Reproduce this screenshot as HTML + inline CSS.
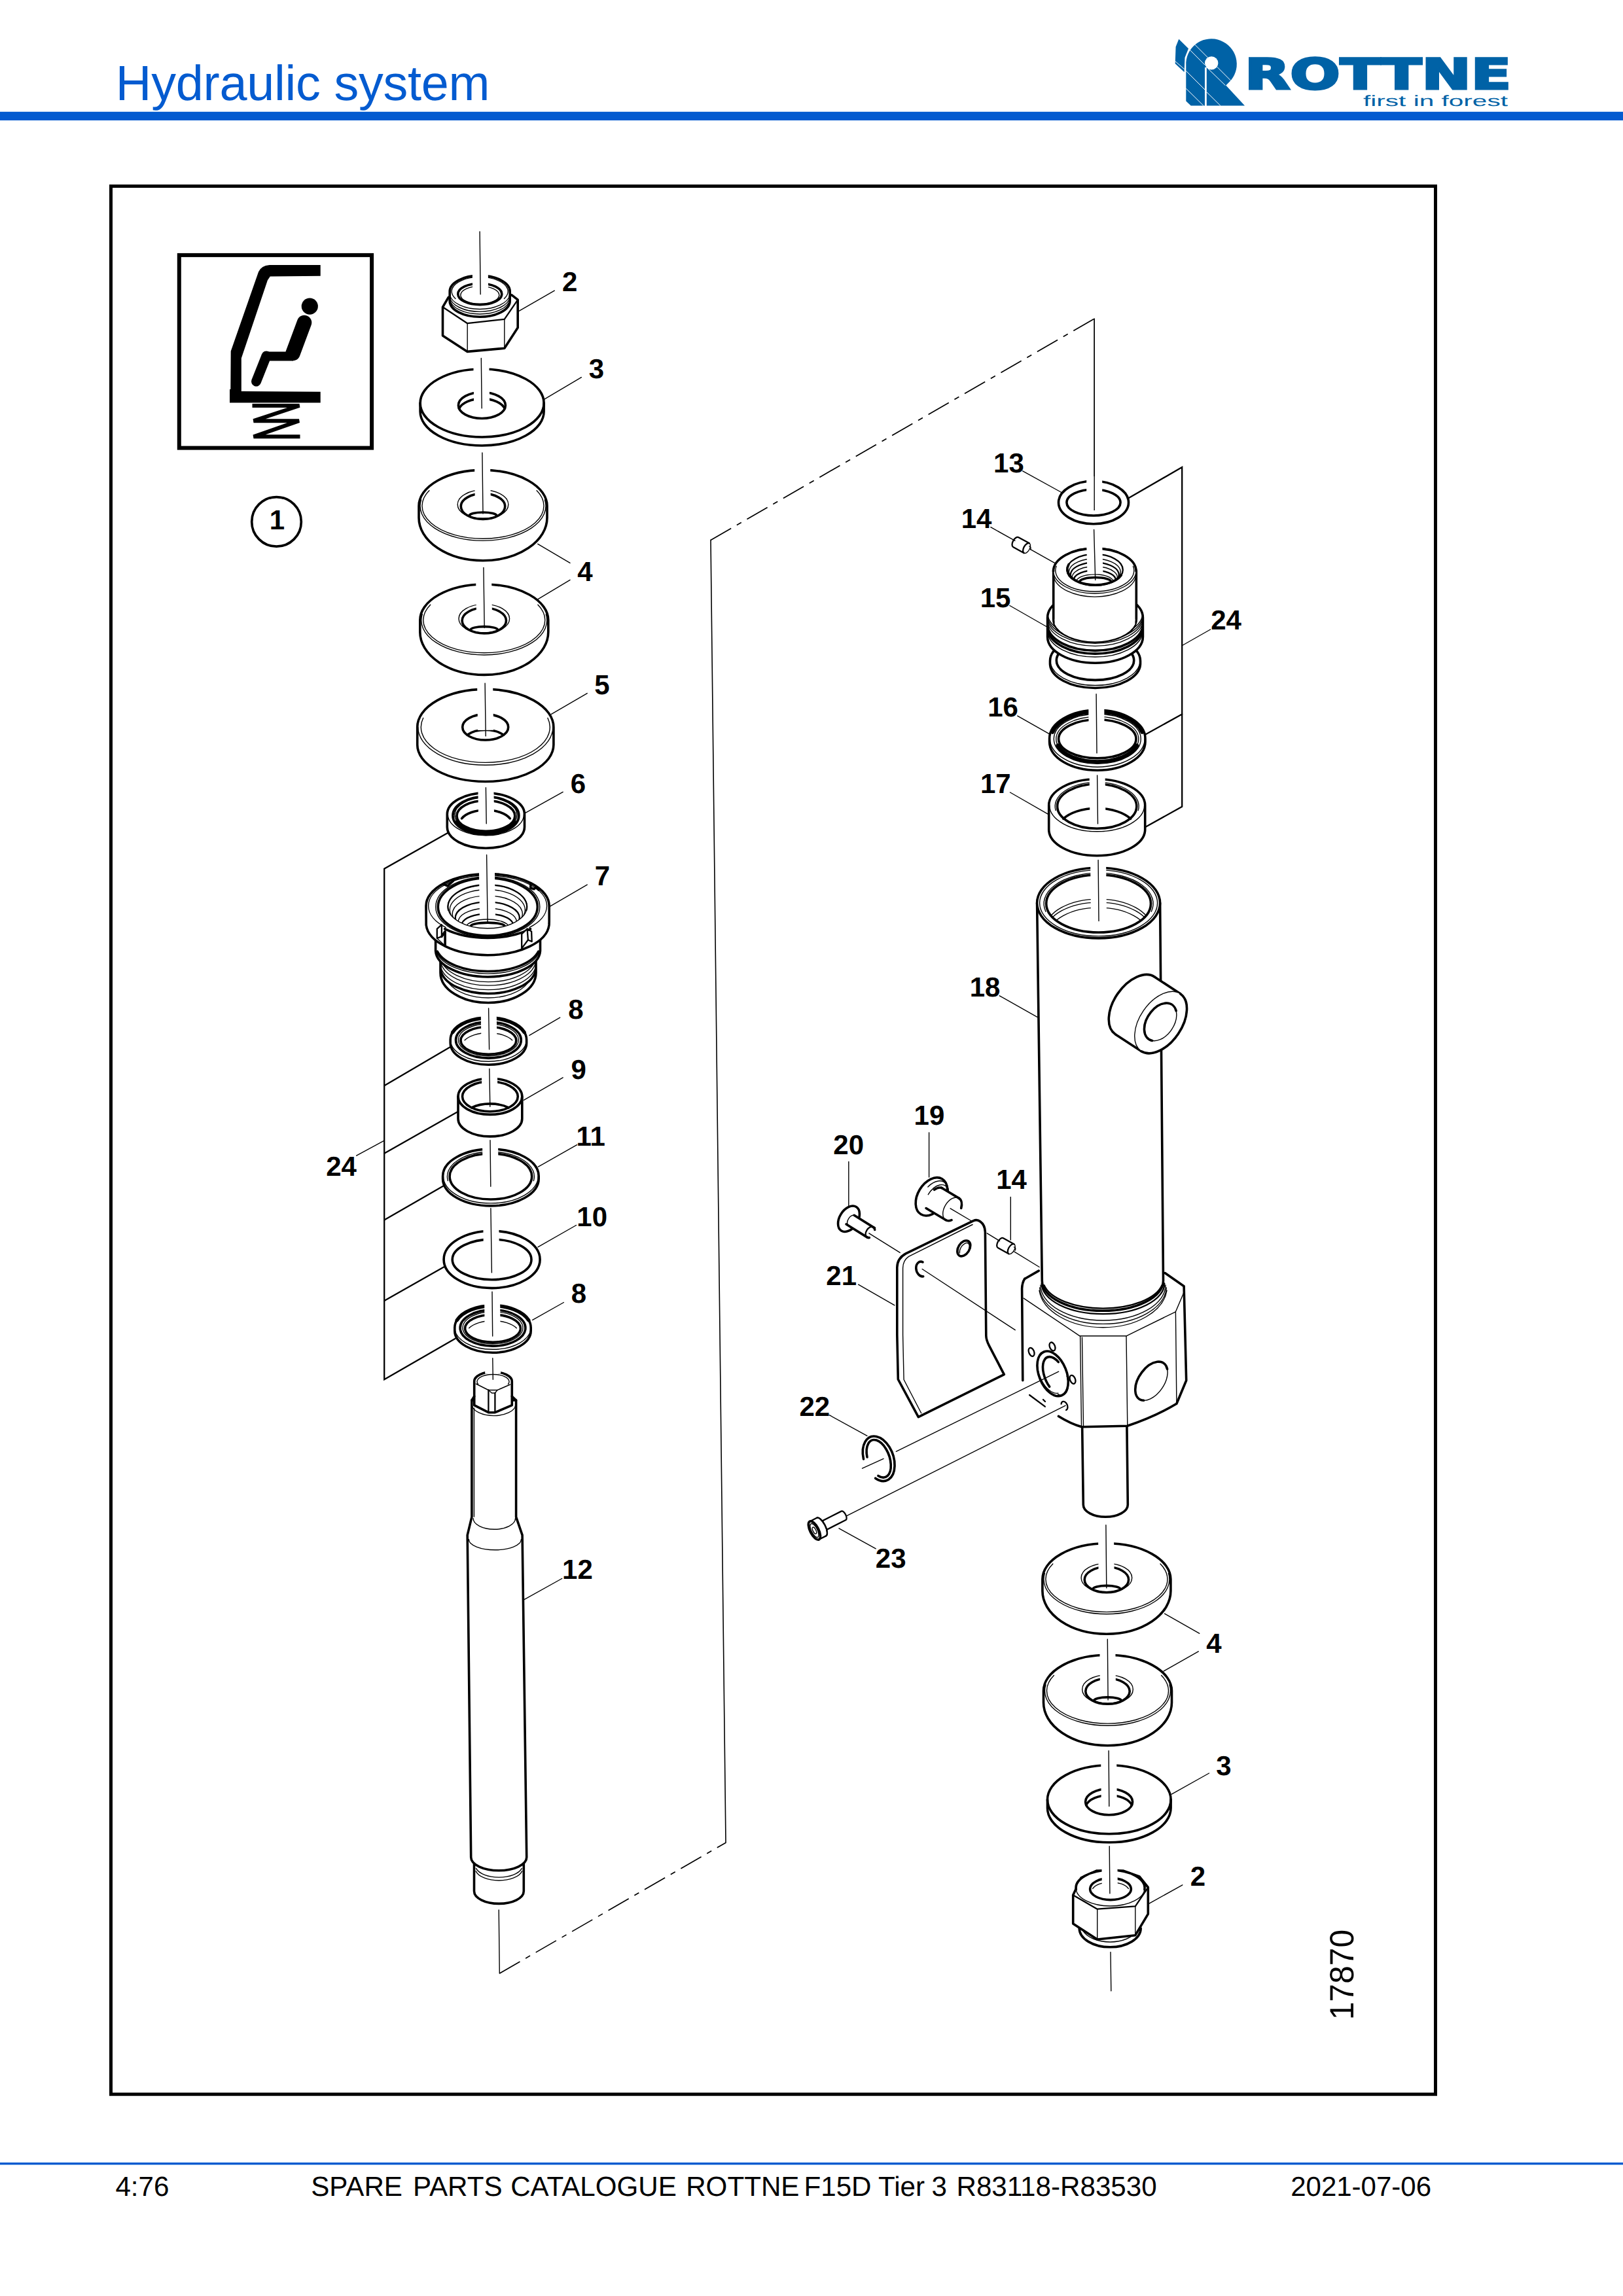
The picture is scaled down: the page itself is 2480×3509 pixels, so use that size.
<!DOCTYPE html>
<html lang="en">
<head>
<meta charset="utf-8">
<title>Hydraulic system - SPARE PARTS CATALOGUE ROTTNE F15D Tier 3 R83118-R83530</title>
<style>
html,body{margin:0;padding:0;background:#fff;}
body{width:2480px;height:3509px;overflow:hidden;font-family:"Liberation Sans",sans-serif;}
svg{display:block;position:absolute;left:0;top:0;}
svg text{font-family:"Liberation Sans",sans-serif;text-rendering:geometricPrecision;}
.lb{font-weight:bold;text-anchor:middle;fill:#000;stroke:none;}
.dr{stroke:#000;fill:none;stroke-linecap:round;stroke-linejoin:round;}
</style>
</head>
<body>
<svg width="2480" height="3509" viewBox="0 0 2480 3509">
<rect x="0" y="0" width="2480" height="3509" fill="#fff"/>
<text x="176.8" y="153" font-size="75.6" fill="#045bd0" textLength="571.8" lengthAdjust="spacing">Hydraulic system</text>
<rect x="0" y="170.8" width="2480" height="13.2" fill="#045bd0"/>
<rect x="0" y="3305" width="2480" height="3.4" fill="#045bd0"/>
<text x="176.4" y="3355.7" font-size="42.17" fill="#000">4:76</text>
<text x="475.2" y="3355.7" font-size="42.17" fill="#000"><tspan>SPARE </tspan><tspan dx="4.2">PARTS </tspan><tspan dx="0.9">CATALOGUE </tspan><tspan dx="2.5">ROTTNE </tspan><tspan dx="-4.7">F15D </tspan><tspan dx="-0.5">Tier </tspan><tspan dx="-1.3">3 </tspan><tspan dx="2.8">R83118-R83530</tspan></text>
<text x="1972.2" y="3355.7" font-size="42" fill="#000">2021-07-06</text>
<g fill="#0062a6" stroke="none">
<path d="M1801.3,59.8L1816,74.2L1810.5,88.1L1809.6,110.2L1795.7,97.3L1796.6,71.4Z"/>
<path d="M1812.3,95.5A38.8,38.8 0 1 1 1881.3,122.3L1873.3,130.6L1902,161.6L1819.7,161.6L1812.3,154.6Z"/>
<circle cx="1851.2" cy="96.4" r="10.2" fill="#fff"/>
<rect x="1841" y="103" width="2.8" height="59" fill="#fff"/>
<g stroke="#fff" stroke-width="1" fill="none"><path d="M1825.3,67.7L1880.7,123.2M1817,75.1L1841,99.2M1843.8,102.8L1872.4,130.6M1812.3,108.4L1841,137M1812.3,135.2L1839.1,161.6M1843.8,140.7L1865,161.6M1795.7,93.6L1809.6,105.6"/></g>
<text transform="translate(1902 136.3) scale(1.388 1)" x="0" y="0" font-family="DejaVu Sans, Liberation Sans, sans-serif" font-weight="bold" font-size="64.8" stroke="#0062a6" stroke-width="3.2" style="font-family:'DejaVu Sans','Liberation Sans',sans-serif">ROTTNE</text>
<text x="2083" y="161.6" font-size="23" textLength="221" lengthAdjust="spacingAndGlyphs">first in forest</text>
</g>
<g class="dr">
<rect x="169.5" y="284.5" width="2024" height="2916.2" stroke-width="5" stroke-linejoin="miter"/>
<rect x="273.8" y="389.9" width="294.3" height="294.7" stroke-width="6" stroke-linejoin="miter"/>
<path d="M489.7,405L411.8,405Q399,406 395,415.5L352.7,536.7L352.3,594.9L351,594.9L351,615.6L489.7,615.6L489.7,598.8L368.8,597.9L368.8,547.6L408.9,428.3L412.8,422.4L489.7,421.8Z" fill="#000" stroke="none"/>
<circle cx="473.3" cy="468.1" r="12.6" fill="#000" stroke="none"/>
<path d="M465,493L447.5,540" stroke-width="22.5" stroke-linecap="round"/>
<path d="M448,544.4L406,544.4" stroke-width="14" stroke-linecap="butt"/>
<path d="M407,544L391.5,583" stroke-width="15" stroke-linecap="round"/>
<path d="M385.5,620H457.5L387.5,643.2H457L387.5,667.3H458.5" stroke-width="6" stroke-linecap="butt" stroke-linejoin="miter"/>
<circle cx="422.5" cy="797.4" r="37.8" stroke-width="3.7"/>
<text x="423.5" y="808.8" font-size="42" class="lb">1</text>
<path d="M685.4,454.2L676.5,469.3L676.5,513L714.2,537.4L770.8,532.3L791.2,500.8L791.2,458.2L781.9,450.9Z" stroke-width="3.6" fill="#fff"/>
<path d="M676.5,469.3L714.2,494.2L770.8,487.9L791.2,458.2" stroke-width="2.3" fill="none"/>
<path d="M714.2,494.2L714.2,537.4" stroke-width="1.4" fill="none"/>
<path d="M770.8,487.9L770.8,532.3" stroke-width="1.4" fill="none"/>
<path d="M779.2,459.9A46,24.3 0 0 1 687.2,459.9L687.2,445.4L687.2,445.4A46,24.3 0 0 1 779.2,445.4Z" stroke-width="3.6" fill="#fff"/>
<path d="M779,458A46,24.3 0 0 1 687.4,458" stroke-width="1.4" fill="none"/>
<path d="M779,450.5A46,24.3 0 0 1 687.4,450.5" stroke-width="1.4" fill="none"/>
<path d="M779,454.3A46,24.3 0 0 1 687.4,454.3" stroke-width="1.4" fill="none"/>
<path d="M696,456.4A43,22 0 1 1 770.4,456.4" stroke-width="1.4" fill="none"/>
<ellipse cx="733.3" cy="449.4" rx="33.5" ry="16.2" stroke-width="3.6" fill="none"/>
<ellipse cx="733.3" cy="450.9" rx="29.5" ry="13.5" stroke-width="1.4" fill="none"/>
<path d="M831.1,629A94.5,52 0 0 1 642.1,629L642.1,616L642.1,616A94.5,52 0 0 1 831.1,616Z" stroke-width="3.6" fill="#fff"/>
<path d="M831.1,616A94.5,52 0 0 1 642.1,616" stroke-width="3.6" fill="none"/>
<ellipse cx="736.4" cy="619.5" rx="36" ry="20" stroke-width="3.6" fill="none"/>
<path d="M701.5,624.5A36,20 0 0 1 771.3,624.5" stroke-width="3.6" fill="none"/>
<path d="M640,773.2A98,54.8 0 0 1 836,773.2L836,791.2L836,791.2A98,65.6 0 0 1 640,791.2Z" stroke-width="3.6" fill="#fff"/>
<path d="M820.1,749.7A93,50 0 1 1 655.9,749.7" stroke-width="1.4" fill="none"/>
<path d="M832.5,764A96,53 0 1 1 643.5,764" stroke-width="1.4" fill="none"/>
<ellipse cx="738" cy="771" rx="38.8" ry="22.2" stroke-width="1.4" fill="none"/>
<ellipse cx="738" cy="773.9" rx="33.7" ry="19.5" stroke-width="3.6" fill="none"/>
<clipPath id="c1"><ellipse cx="738" cy="773.9" rx="33.7" ry="19.5"/></clipPath>
<g clip-path="url(#c1)">
<ellipse cx="738" cy="788.2" rx="21" ry="5.2" stroke-width="3.6" fill="none"/>
<path d="M764.6,786.5A27,7.5 0 0 1 711.4,786.5" stroke-width="1.4" fill="none"/>
</g>
<path d="M641.8,947.8A98,54.8 0 0 1 837.8,947.8L837.8,965.8L837.8,965.8A98,65.6 0 0 1 641.8,965.8Z" stroke-width="3.6" fill="#fff"/>
<path d="M821.9,924.3A93,50 0 1 1 657.7,924.3" stroke-width="1.4" fill="none"/>
<path d="M834.3,938.6A96,53 0 1 1 645.3,938.6" stroke-width="1.4" fill="none"/>
<ellipse cx="739.8" cy="945.6" rx="38.8" ry="22.2" stroke-width="1.4" fill="none"/>
<ellipse cx="739.8" cy="948.5" rx="33.7" ry="19.5" stroke-width="3.6" fill="none"/>
<clipPath id="c2"><ellipse cx="739.8" cy="948.5" rx="33.7" ry="19.5"/></clipPath>
<g clip-path="url(#c2)">
<ellipse cx="739.8" cy="962.8" rx="21" ry="5.2" stroke-width="3.6" fill="none"/>
<path d="M766.4,961.1A27,7.5 0 0 1 713.2,961.1" stroke-width="1.4" fill="none"/>
</g>
<path d="M637.7,1111.3A104.1,58 0 0 1 845.9,1111.3L845.9,1138.3L845.9,1138.3A104.1,56.2 0 0 1 637.7,1138.3Z" stroke-width="3.6" fill="#fff"/>
<path d="M844.9,1111.3A103.1,58 0 0 1 638.7,1111.3" stroke-width="1.4" fill="none"/>
<path d="M836.9,1097.3A98.5,54 0 1 1 646.7,1097.3" stroke-width="1.4" fill="none"/>
<ellipse cx="741.7" cy="1111.3" rx="35" ry="19.7" stroke-width="3.6" fill="none"/>
<path d="M713.9,1123.3A35,19.7 0 0 1 769.5,1123.3" stroke-width="3.6" fill="none"/>
<path d="M683.3,1244.4A59.1,32.5 0 0 1 801.5,1244.4L801.5,1264.1L801.5,1264.1A59.1,32.1 0 0 1 683.3,1264.1Z" stroke-width="3.6" fill="#fff"/>
<path d="M800.5,1244.4A58.1,32.5 0 0 1 684.3,1244.4" stroke-width="1.4" fill="none"/>
<ellipse cx="742.4" cy="1246.4" rx="50.5" ry="29" stroke-width="3.6" fill="none"/>
<ellipse cx="742.4" cy="1245.4" rx="47.5" ry="26.5" stroke-width="1.4" fill="none"/>
<ellipse cx="742.4" cy="1246.9" rx="44.4" ry="23.4" stroke-width="3.6" fill="none"/>
<path d="M787,1256.4A47.5,26.2 0 0 1 697.8,1256.4" stroke-width="5" fill="none"/>
<path d="M705.6,1250.8A40,21 0 0 1 779.2,1250.8" stroke-width="3.6" fill="none"/>
<path d="M673,1455L673,1486.7A73,45.8 0 0 0 819,1486.7L819,1455Z" stroke-width="3.6" fill="#fff"/>
<path d="M818.3,1466.2A73,40 0 0 1 673.7,1466.2" stroke-width="1.4" fill="none"/>
<path d="M818.3,1471.7A73,40 0 0 1 673.7,1471.7" stroke-width="1.4" fill="none"/>
<path d="M818.3,1478.2A73,40 0 0 1 673.7,1478.2" stroke-width="1.4" fill="none"/>
<path d="M818.3,1484.1A73,40 0 0 1 673.7,1484.1" stroke-width="3.6" fill="none"/>
<path d="M805.8,1503.1A66,38 0 0 1 686.2,1503.1" stroke-width="1.4" fill="none"/>
<path d="M665.6,1420L665.6,1453.4A80,41 0 0 0 825.5,1453.4L825.5,1420Z" stroke-width="3.6" fill="#fff"/>
<path d="M823.8,1455.5A80,41 0 0 1 667.2,1455.5" stroke-width="1.4" fill="none"/>
<path d="M822.8,1454.1A80,41 0 0 1 668.2,1454.1" stroke-width="3.6" fill="none"/>
<path d="M651,1384.5A94.1,49 0 0 1 839.2,1384.5L839.2,1408.5L839,1413.9A94.1,49 0 0 1 651.2,1413.9Z" stroke-width="3.6" fill="#fff"/>
<path d="M810.5,1419.7A94.1,49 0 0 1 679.7,1419.7" stroke-width="3.6" fill="none"/>
<path d="M681.1,1417.4A90.5,46.5 0 1 1 809.1,1417.4" stroke-width="1.4" fill="none"/>
<path d="M667.8,1419.6L674.9,1413.2L674.9,1431.3L667.8,1433.9Z" stroke-width="2.3" fill="#fff"/>
<path d="M674.9,1431.3L680.1,1423.5L680.1,1445.5" stroke-width="3.6" fill="none"/>
<path d="M667.8,1433.9L680.1,1445.5" stroke-width="1.4" fill="none"/>
<path d="M797.2,1427.4L805.6,1419.6L806.9,1436.5L797.2,1449.4Z" stroke-width="2.3" fill="#fff"/>
<path d="M805.6,1419.6L812.1,1423.5L812.7,1439L806.9,1436.5" stroke-width="2.3" fill="none"/>
<path d="M678.8,1351.7L684,1354L692.4,1346.5L692.4,1344.6L699.5,1342.6" stroke-width="3.6" fill="none"/>
<path d="M810.8,1350.4L810.8,1357L816,1358.8L818.6,1356.2L823,1360" stroke-width="3.6" fill="none"/>
<ellipse cx="745.3" cy="1386" rx="79.5" ry="46" stroke-width="1.4" fill="none"/>
<ellipse cx="745.3" cy="1386" rx="76" ry="44" stroke-width="3.6" fill="none"/>
<ellipse cx="744.8" cy="1385.5" rx="60.4" ry="33.3" stroke-width="1.4" fill="#fff"/>
<clipPath id="c3"><ellipse cx="744.8" cy="1385.5" rx="60.4" ry="33.3"/></clipPath>
<g clip-path="url(#c3)">
<path d="M695,1406A57.5,31 0 1 1 794.6,1406" stroke-width="1.4" fill="none"/>
<path d="M698.5,1410.2A53.5,27.5 0 1 1 791.1,1410.2" stroke-width="1.4" fill="none"/>
<path d="M702.4,1414.5A49,24 0 1 1 787.2,1414.5" stroke-width="2.3" fill="none"/>
<path d="M706.3,1418.8A44.5,20.5 0 1 1 783.3,1418.8" stroke-width="1.4" fill="none"/>
<path d="M710.6,1422.8A39.5,17.5 0 1 1 779,1422.8" stroke-width="2.3" fill="none"/>
<path d="M715.4,1426A34,14 0 1 1 774.2,1426" stroke-width="1.4" fill="none"/>
<ellipse cx="745.3" cy="1415.5" rx="26" ry="5.4" stroke-width="3.6" fill="none"/>
</g>
<path d="M685.3,1391.3A60.4,33.3 0 1 1 804.3,1391.3" stroke-width="2.3" fill="none"/>
<path d="M804.6,1594A58.2,33.3 0 0 1 688.2,1594L688.2,1589L688.2,1589A58.2,33.3 0 0 1 804.6,1589Z" stroke-width="3.6" fill="#fff"/>
<path d="M804.6,1589A58.2,33.3 0 0 1 688.2,1589" stroke-width="1.4" fill="none"/>
<path d="M691.7,1577.6A58.2,33.3 0 0 1 801.1,1577.6" stroke-width="5.5" fill="none"/>
<ellipse cx="746.4" cy="1589.5" rx="49.9" ry="27.6" stroke-width="3.6" fill="none"/>
<ellipse cx="746.4" cy="1589.2" rx="46" ry="24.5" stroke-width="1.4" fill="none"/>
<ellipse cx="746.4" cy="1590.2" rx="42.4" ry="21" stroke-width="3.6" fill="none"/>
<path d="M710.1,1589.8A40,19.5 0 0 1 782.7,1589.8" stroke-width="1.4" fill="none"/>
<path d="M700,1675.8A48.9,27.6 0 0 1 797.8,1675.8L797.8,1709.8L797.8,1709.8A48.9,27.1 0 0 1 700,1709.8Z" stroke-width="3.6" fill="#fff"/>
<path d="M797.8,1675.8A48.9,27.6 0 0 1 700,1675.8" stroke-width="3.6" fill="none"/>
<ellipse cx="748.9" cy="1675.8" rx="42.4" ry="22.9" stroke-width="3.6" fill="none"/>
<path d="M720.5,1692.8A42.4,22.9 0 0 1 777.3,1692.8" stroke-width="3.6" fill="none"/>
<path d="M823.2,1801.5A73.3,41.4 0 0 1 676.6,1801.5L676.6,1797.5L676.6,1797.5A73.3,41.4 0 0 1 823.2,1797.5Z" stroke-width="3.6" fill="#fff"/>
<path d="M822.4,1797.5A72.5,41.4 0 0 1 677.4,1797.5" stroke-width="1.4" fill="none"/>
<ellipse cx="749.9" cy="1798" rx="62.8" ry="35" stroke-width="3.6" fill="none"/>
<path d="M684.4,1804.6A66.5,37.8 0 1 1 815.4,1804.6" stroke-width="1.4" fill="none"/>
<ellipse cx="751.6" cy="1924.9" rx="73.5" ry="43.7" stroke-width="3.6" fill="#fff"/>
<ellipse cx="751.6" cy="1924.9" rx="60.4" ry="30.8" stroke-width="3.6" fill="none"/>
<path d="M811.2,2034A58.2,33.3 0 0 1 694.8,2034L694.8,2029L694.8,2029A58.2,33.3 0 0 1 811.2,2029Z" stroke-width="3.6" fill="#fff"/>
<path d="M811.2,2029A58.2,33.3 0 0 1 694.8,2029" stroke-width="1.4" fill="none"/>
<path d="M698.3,2017.6A58.2,33.3 0 0 1 807.7,2017.6" stroke-width="5.5" fill="none"/>
<ellipse cx="753" cy="2029.5" rx="49.9" ry="27.6" stroke-width="3.6" fill="none"/>
<ellipse cx="753" cy="2029.2" rx="46" ry="24.5" stroke-width="1.4" fill="none"/>
<ellipse cx="753" cy="2030.2" rx="42.4" ry="21" stroke-width="3.6" fill="none"/>
<path d="M716.7,2029.8A40,19.5 0 0 1 789.3,2029.8" stroke-width="1.4" fill="none"/>
<path d="M724.5,2845L724.5,2890.2A37.9,19.2 0 0 0 800.3,2890.2L800.3,2845Z" stroke-width="3.6" fill="#fff"/>
<path d="M797.2,2855.7A36,18 0 0 1 727.6,2855.7" stroke-width="1.4" fill="none"/>
<path d="M797.6,2859.7A36,18 0 0 1 727.2,2859.7" stroke-width="1.4" fill="none"/>
<path d="M720.9,2140L720.9,2318.4L714.2,2346.2L719.7,2838.4A42.5,20.3 0 0 0 804.7,2838.4L798.1,2346.2L788.6,2318.4L788.6,2140Z" stroke-width="3.6" fill="#fff"/>
<path d="M724.4,2152L724.4,2318" stroke-width="1.4"/>
<path d="M787.5,2320.6A32.2,16.7 0 0 1 723.1,2320.6" stroke-width="1.4" fill="none"/>
<path d="M796.4,2352.8A40,16 0 0 1 716.4,2352.8" stroke-width="1.4" fill="none"/>
<path d="M787.9,2147.5A33.5,17.5 0 0 1 721.1,2147.5" stroke-width="1.4" fill="none"/>
<path d="M724.7,2111L724.7,2147.6L746.4,2158.7L756.4,2158.7L782.3,2147.6L782.3,2111A28.8,14.4 0 0 0 724.7,2111Z" stroke-width="3.6" fill="#fff"/>
<path d="M730.5,2115.3A24.5,11 0 1 1 776.5,2115.3" stroke-width="1.4" fill="none"/>
<path d="M727.5,2115L746.4,2124.5L760,2124.5L779.5,2116" stroke-width="1.4" fill="none"/>
<path d="M746.4,2124.5L746.4,2158" stroke-width="2.3" fill="none"/>
<path d="M756.4,2129L756.4,2158" stroke-width="2.3" fill="none"/>
<path d="M746.4,2124.5L751.5,2129L756.4,2129L760,2124.5" stroke-width="1.4" fill="none"/>
<path d="M720.9,2140L724.7,2134" stroke-width="3.6" fill="none"/>
<path d="M788.6,2140L782.3,2134" stroke-width="3.6" fill="none"/>
<path d="M684.5,1272.8L587.2,1327.7L587.2,2108.2L695.7,2045.7" stroke-width="2.3" fill="none" stroke-linejoin="miter"/>
<path d="M688.2,1600.1L587.2,1659.3" stroke-width="2.3"/>
<path d="M700,1698.7L587.2,1762.8" stroke-width="2.3"/>
<path d="M678.3,1812.1L587.2,1864.5" stroke-width="2.3"/>
<path d="M679.3,1935.7L587.2,1988" stroke-width="2.3"/>
<path d="M544.7,1766.2L587.2,1743.1" stroke-width="1.4"/>
<path d="M733.1,354L734.1,440.8" stroke="#fff" stroke-width="24" stroke-linecap="butt"/>
<path d="M733.1,354L734.2,449.8" stroke-width="1.4"/>
<path d="M735.3,547.4L736.1,614.9" stroke="#fff" stroke-width="24" stroke-linecap="butt"/>
<path d="M735.3,547.4L736.2,623.9" stroke-width="1.4"/>
<path d="M736.9,692L737.9,776" stroke="#fff" stroke-width="24" stroke-linecap="butt"/>
<path d="M736.9,692L738,785" stroke-width="1.4"/>
<path d="M738.9,867.5L740.1,950.5" stroke="#fff" stroke-width="24" stroke-linecap="butt"/>
<path d="M738.9,867.5L740.2,959.5" stroke-width="1.4"/>
<path d="M741.1,1044.3L742.1,1115.9" stroke="#fff" stroke-width="24" stroke-linecap="butt"/>
<path d="M741.1,1044.3L742.2,1124.9" stroke-width="1.4"/>
<path d="M742.4,1203.8L743.1,1249.7" stroke="#fff" stroke-width="24" stroke-linecap="butt"/>
<path d="M742.4,1203.8L743.2,1258.7" stroke-width="1.4"/>
<path d="M743.6,1306.5L745,1401.9" stroke="#fff" stroke-width="24" stroke-linecap="butt"/>
<path d="M743.6,1306.5L745.1,1410.9" stroke-width="1.4"/>
<path d="M746.6,1541L747.5,1594.8" stroke="#fff" stroke-width="24" stroke-linecap="butt"/>
<path d="M746.6,1541L747.6,1603.8" stroke-width="1.4"/>
<path d="M747.8,1633.4L748.6,1682.3" stroke="#fff" stroke-width="24" stroke-linecap="butt"/>
<path d="M747.8,1633.4L748.8,1691.3" stroke-width="1.4"/>
<path d="M749,1742.6L749.7,1804.3" stroke="#fff" stroke-width="24" stroke-linecap="butt"/>
<path d="M749,1742.6L749.8,1813.3" stroke-width="1.4"/>
<path d="M749.9,1846.6L751.3,1935.9" stroke="#fff" stroke-width="24" stroke-linecap="butt"/>
<path d="M749.9,1846.6L751.4,1944.9" stroke-width="1.4"/>
<path d="M752,1974.2L752.6,2033" stroke="#fff" stroke-width="24" stroke-linecap="butt"/>
<path d="M752,1974.2L752.7,2042" stroke-width="1.4"/>
<path d="M752.8,2075.8L753.2,2099.2" stroke="#fff" stroke-width="24" stroke-linecap="butt"/>
<path d="M752.8,2075.8L753.3,2108.2" stroke-width="1.4"/>
<path d="M762.2,2919L763.3,3015.9" stroke-width="1.4"/>
<path d="M763.3,3015.9L1109,2816.2" stroke-width="1.7" stroke-dasharray="36 10 8 10" stroke-linecap="butt"/>
<path d="M1109,2816.2L1086,825.4" stroke-width="1.6"/>
<path d="M1086,825.4L1672.2,487.1" stroke-width="1.7" stroke-dasharray="36 10 8 10" stroke-linecap="butt"/>
<path d="M793,475.3L847.3,444.2" stroke-width="1.4"/>
<path d="M831,610.6L888.4,576.7" stroke-width="1.4"/>
<path d="M821.8,831.3L871,860.4" stroke-width="1.4"/>
<path d="M821.8,915.8L871,886.3" stroke-width="1.4"/>
<path d="M842.2,1091.6L897.2,1059.6" stroke-width="1.4"/>
<path d="M802.8,1242.4L860.2,1210.4" stroke-width="1.4"/>
<path d="M841,1384.9L897.2,1352.1" stroke-width="1.4"/>
<path d="M808.9,1582.4L855.7,1555.2" stroke-width="1.4"/>
<path d="M800.3,1681.4L860.2,1646.9" stroke-width="1.4"/>
<path d="M822.5,1783.2L881.6,1749.7" stroke-width="1.4"/>
<path d="M822,1905.8L880.5,1872.5" stroke-width="1.4"/>
<path d="M813.7,2017.3L861.4,1990.5" stroke-width="1.4"/>
<path d="M858.7,2412.5L801,2444.7" stroke-width="1.4"/>
<text x="870.6" y="445.3" font-size="42" class="lb">2</text>
<text x="911.5" y="577.8" font-size="42" class="lb">3</text>
<text x="893.9" y="888.1" font-size="42" class="lb">4</text>
<text x="919.9" y="1060.8" font-size="42" class="lb">5</text>
<text x="883.4" y="1211.9" font-size="42" class="lb">6</text>
<text x="920.5" y="1352.9" font-size="42" class="lb">7</text>
<text x="879.9" y="1556.6" font-size="42" class="lb">8</text>
<text x="884.1" y="1648.6" font-size="42" class="lb">9</text>
<text x="902.6" y="1750.6" font-size="42" class="lb">11</text>
<text x="904.7" y="1873.5" font-size="42" class="lb">10</text>
<text x="884.4" y="1991.1" font-size="42" class="lb">8</text>
<text x="521.6" y="1797" font-size="42" class="lb">24</text>
<text x="882.4" y="2413" font-size="42" class="lb">12</text>
<ellipse cx="1671" cy="768" rx="53.5" ry="32.7" stroke-width="3.6" fill="#fff"/>
<ellipse cx="1671" cy="768" rx="41.1" ry="20" stroke-width="3.6" fill="none"/>
<path d="M1742.5,1014A69,37.5 0 0 1 1604.5,1014L1604.5,1010L1604.5,1010A69,37.5 0 0 1 1742.5,1010Z" stroke-width="3.6" fill="#fff"/>
<path d="M1742,1010A68.5,37.5 0 0 1 1605,1010" stroke-width="1.4" fill="none"/>
<ellipse cx="1673.5" cy="1009.4" rx="59.2" ry="30" stroke-width="3.6" fill="none"/>
<path d="M1600.6,944L1600.6,973.2A72.8,40 0 0 0 1746.4,973.2L1746.4,944A72.8,40 0 0 0 1600.6,944Z" stroke-width="3.6" fill="#fff"/>
<path d="M1746.1,938.4A72.8,40 0 0 1 1600.7,938.4" stroke-width="1.4" fill="none"/>
<path d="M1746.1,941.9A72.8,40 0 0 1 1600.7,941.9" stroke-width="1.4" fill="none"/>
<path d="M1746.1,945.4A72.8,40 0 0 1 1600.7,945.4" stroke-width="1.4" fill="none"/>
<path d="M1746.1,949.5A72.8,40 0 0 1 1600.7,949.5" stroke-width="1.4" fill="none"/>
<path d="M1746.1,956.5A72.8,40 0 0 1 1600.7,956.5" stroke-width="3.6" fill="none"/>
<path d="M1746.1,961.2A72.8,40 0 0 1 1600.7,961.2" stroke-width="3.6" fill="none"/>
<path d="M1746.1,966.1A72.8,40 0 0 1 1600.7,966.1" stroke-width="1.4" fill="none"/>
<path d="M1609.7,872L1609.7,946A63.3,35 0 0 0 1736.3,946L1736.3,872Z" stroke-width="3.6" fill="#fff"/>
<path d="M1611.6,946A63.3,35 0 0 0 1734.4,946L1734.4,954A63.3,35 0 0 1 1611.6,954Z" stroke-width="0" fill="#fff" stroke="none"/>
<ellipse cx="1672.8" cy="872" rx="63.3" ry="35" stroke-width="1.4" fill="#fff"/>
<path d="M1609.5,873.2A63.3,35 0 1 1 1736.1,873.2" stroke-width="3.6" fill="none"/>
<path d="M1731.5,865.3A60,32 0 1 1 1614.1,865.3" stroke-width="1.4" fill="none"/>
<path d="M1735.5,881.9A63.3,35 0 0 1 1610.1,881.9" stroke-width="1.4" fill="none"/>
<ellipse cx="1673.1" cy="870.9" rx="42.7" ry="24" stroke-width="2.3" fill="#fff"/>
<path d="M1713.2,879.1A42.7,24 0 0 1 1633,862.7" stroke-width="3.6" fill="none"/>
<clipPath id="c4"><ellipse cx="1673.1" cy="870.9" rx="42.7" ry="24"/></clipPath>
<g clip-path="url(#c4)">
<path d="M1638.6,884.5A39.5,20.5 0 1 1 1707,884.5" stroke-width="1.4" fill="none"/>
<path d="M1640.8,887.5A37,18.5 0 1 1 1704.8,887.5" stroke-width="2.3" fill="none"/>
<path d="M1642.9,890.5A34.5,16.5 0 1 1 1702.7,890.5" stroke-width="1.4" fill="none"/>
<path d="M1645.1,893.5A32,14.5 0 1 1 1700.5,893.5" stroke-width="2.3" fill="none"/>
<path d="M1647.7,896.5A29,12.5 0 1 1 1697.9,896.5" stroke-width="1.4" fill="none"/>
<ellipse cx="1673.8" cy="889" rx="24" ry="6.5" stroke-width="3.6" fill="none"/>
</g>
<path d="M1750,1133.7A73.2,43.5 0 0 1 1603.6,1133.7L1603.6,1128.7L1603.6,1128.7A73.2,43.5 0 0 1 1750,1128.7Z" stroke-width="3.6" fill="#fff"/>
<path d="M1749.3,1128.7A72.5,43.5 0 0 1 1604.3,1128.7" stroke-width="1.4" fill="none"/>
<path d="M1608.2,1118.8A71,42 0 0 1 1745.4,1118.8" stroke-width="6" fill="none"/>
<ellipse cx="1676.8" cy="1129.3" rx="66.5" ry="38" stroke-width="1.4" fill="none"/>
<ellipse cx="1676.8" cy="1129.3" rx="63" ry="34" stroke-width="1.4" fill="none"/>
<ellipse cx="1676.8" cy="1129.3" rx="59.2" ry="29.5" stroke-width="3.6" fill="none"/>
<path d="M1737.2,1139.4A62.5,33.5 0 0 1 1616.4,1139.4" stroke-width="6" fill="none"/>
<path d="M1602.7,1230.8A73.5,40 0 0 1 1749.7,1230.8L1749.7,1267.7L1749.7,1267.7A73.5,40 0 0 1 1602.7,1267.7Z" stroke-width="3.6" fill="#fff"/>
<path d="M1748.7,1230.8A72.5,40 0 0 1 1603.7,1230.8" stroke-width="1.4" fill="none"/>
<ellipse cx="1676.2" cy="1232.3" rx="60.6" ry="34" stroke-width="3.6" fill="none"/>
<path d="M1613.2,1238.6A64,36.5 0 1 1 1739.2,1238.6" stroke-width="1.4" fill="none"/>
<path d="M1624.8,1251.3A60.6,34 0 0 1 1727.6,1251.3" stroke-width="3.6" fill="none"/>
<path d="M1653.5,2170L1655.3,2299.7A34,18.6 0 0 0 1723.3,2299.7L1721.8,2170Z" stroke-width="3.6" fill="#fff"/>
<path d="M1587.3,1942.1L1565.7,1954.5L1560.7,1969.3L1562.2,2109.8L1617.5,2164.5L1653,2180.8L1722.5,2179.3L1797.9,2145.3L1812.7,2109.8L1809.1,1965.7L1780.1,1945.6Z" stroke-width="0" fill="#fff" stroke="none"/>
<path d="M1587.3,1942.1L1565.7,1954.5" stroke-width="3.6" fill="none"/>
<path d="M1565.7,1954.5Q1562,1960 1561.6,1969.3L1562.8,2109.8" stroke-width="3.6" fill="none"/>
<path d="M1617.5,2164.5Q1636,2176 1653,2180.8L1722.5,2179.3Q1765,2165 1797.9,2145.3L1812.7,2109.8L1809.1,1965.7L1780.1,1945.6" stroke-width="3.6" fill="none"/>
<path d="M1564.2,1984.1L1650,2041.8L1721,2041.8L1796.4,2004.8L1809.1,1975" stroke-width="1.4" fill="none"/>
<path d="M1650.6,2041.8L1652.5,2179.5" stroke-width="1.4"/>
<path d="M1653.5,2044L1655.5,2180" stroke-width="1.4"/>
<path d="M1721,2041.8L1722.8,2179" stroke-width="1.4"/>
<path d="M1796.4,2004.8L1797.9,2145.3" stroke-width="1.4"/>
<ellipse cx="1608.6" cy="2099.4" rx="21" ry="36" stroke-width="3.6" fill="none" transform="rotate(-22 1608.6 2099.4)"/>
<path d="M1603.7,2119.4A15.5,30 -22 0 1 1617.3,2081.6" stroke-width="3.6" fill="none"/>
<path d="M1616.9,2129.1A18,33 -22 0 1 1588.7,2071.6" stroke-width="1.4" fill="none"/>
<path d="M1630.1,2103.1A15.5,30 -22 0 1 1616.5,2131" stroke-width="1.4" fill="none"/>
<ellipse cx="1576.1" cy="2066.3" rx="4" ry="6.8" stroke-width="2.3" fill="none" transform="rotate(-22 1576.1 2066.3)"/>
<ellipse cx="1608" cy="2058" rx="4" ry="6.8" stroke-width="2.3" fill="none" transform="rotate(-22 1608 2058)"/>
<ellipse cx="1639" cy="2108.3" rx="4" ry="6.8" stroke-width="2.3" fill="none" transform="rotate(-22 1639 2108.3)"/>
<path d="M1621.6,2145.6A4.5,7 -22 1 1 1629.1,2155" stroke-width="2.3" fill="none"/>
<ellipse cx="1759.4" cy="2110.7" rx="19.7" ry="33.1" stroke-width="1.4" fill="none" transform="rotate(34 1759.4 2110.7)"/>
<path d="M1747.6,2140.3A19.7,33.1 34 1 1 1783.6,2092.4" stroke-width="3.6" fill="none"/>
<path d="M1783,1972.1A98,63 0 0 1 1588,1972.1" stroke-width="1.4" fill="none"/>
<path d="M1782.4,1968A97,58 0 0 1 1588.6,1968" stroke-width="1.4" fill="none"/>
<path d="M1781,1964A95.5,54 0 0 1 1590,1964" stroke-width="1.4" fill="none"/>
<path d="M1779.3,1961.5A93.8,46.6 0 0 1 1591.7,1961.5" stroke-width="2.3" fill="none"/>
<path d="M1584.6,1380L1592.3,1957.5A92.6,45.8 0 0 0 1777.5,1957.5L1772.6,1380Z" stroke-width="3.6" fill="#fff"/>
<path d="M1775.5,1964.3A92,44.5 0 0 1 1595.5,1964.3" stroke-width="2.3" fill="none"/>
<ellipse cx="1678.6" cy="1380.1" rx="94" ry="53.8" stroke-width="3.6" fill="#fff"/>
<ellipse cx="1678.6" cy="1380.1" rx="90" ry="50.5" stroke-width="1.4" fill="none"/>
<ellipse cx="1678.6" cy="1381" rx="79.9" ry="44" stroke-width="3.6" fill="none"/>
<path d="M1597.9,1393.2A83.5,47 0 1 1 1759.3,1393.2" stroke-width="1.4" fill="none"/>
<clipPath id="c5"><ellipse cx="1678.6" cy="1381" rx="79.9" ry="44"/></clipPath>
<g clip-path="url(#c5)">
<path d="M1598.7,1418.1A79.9,44 0 0 1 1758.5,1418.1" stroke-width="1.4" fill="none"/>
<path d="M1598.7,1423.1A79.9,44 0 0 1 1758.5,1423.1" stroke-width="1.4" fill="none"/>
<path d="M1602.6,1429.1A76,42 0 0 1 1754.6,1429.1" stroke-width="1.4" fill="none"/>
</g>
<ellipse cx="1734.4" cy="1536.9" rx="32.2" ry="53.1" stroke-width="3.6" fill="#fff" transform="rotate(34.6 1734.4 1536.9)"/>
<path d="M1764.1,1492.9L1803.6,1518.7L1744.2,1606.7L1704.7,1580.9Z" stroke-width="0" fill="#fff" stroke="none"/>
<path d="M1764.1,1492.9L1803.6,1518.7" stroke-width="3.6"/>
<path d="M1704.7,1580.9L1744.2,1606.7" stroke-width="3.6"/>
<ellipse cx="1773.9" cy="1562.7" rx="32.2" ry="53.1" stroke-width="1.4" fill="#fff" transform="rotate(34.6 1773.9 1562.7)"/>
<path d="M1803.6,1518.7A32.2,53.1 34.6 0 1 1744.2,1606.7" stroke-width="3.6" fill="none"/>
<ellipse cx="1773.2" cy="1561.9" rx="20.7" ry="31.8" stroke-width="1.4" fill="none" transform="rotate(33.8 1773.2 1561.9)"/>
<path d="M1760.6,1590.4A20.7,31.8 33.8 1 1 1797.1,1544.8" stroke-width="3.6" fill="none"/>
<path d="M1487.6,1865.6L1384.1,1915.8Q1371,1923 1370.8,1937L1370.8,2040L1372.3,2108L1403.3,2165.7L1534.3,2100.6L1511.3,2056.3Q1507,2048 1506.8,2041.5L1505.4,1883Q1505,1872 1498,1867Q1493,1863 1487.6,1865.6Z" stroke-width="3.6" fill="#fff"/>
<path d="M1486.1,1871.5L1388.5,1920.3Q1379.8,1926 1379.6,1938L1379.6,2040L1381.1,2108.5L1407.7,2159.8" stroke-width="1.4" fill="none"/>
<ellipse cx="1472.8" cy="1907.9" rx="8.5" ry="13" stroke-width="3.6" fill="none" transform="rotate(32 1472.8 1907.9)"/>
<path d="M1466.4,1915.1A6,10.5 32 1 1 1481,1907.3" stroke-width="1.4" fill="none"/>
<path d="M1410.7,1950.8A8.5,11.5 -15 1 1 1410,1928.8" stroke-width="3.6" fill="none"/>
<g transform="translate(1423.4 1828.8) rotate(31)">
<ellipse cx="0" cy="0" rx="21" ry="31.5" stroke-width="3.6" fill="#fff"/>
<path d="M-12.4,-9.9A18.5,29 0 0 1 23.2,5" stroke-width="1.4" fill="none"/>
<path d="M-6,0A15,25 0 0 1 16.5,-21.7" stroke-width="1.4" fill="none"/>
<path d="M8,-19.5L37,-19.5A12,19.5 0 0 1 37,19.5L8,19.5A12,19.5 0 0 1 8,-19.5Z" stroke-width="0" fill="#fff" stroke="none"/>
<path d="M6,-19.5L37,-19.5" stroke-width="3.6" fill="none"/>
<path d="M2,19.5L37,19.5" stroke-width="3.6" fill="none"/>
<path d="M37,-19.5A12,19.5 0 0 1 47.9,-8.2" stroke-width="3.6" fill="none"/>
<path d="M44.7,14.9A12,19.5 0 0 1 37,19.5" stroke-width="3.6" fill="none"/>
<path d="M37,19.5A12,19.5 0 0 1 37,-19.5" stroke-width="1.4" fill="none"/>
<path d="M-1.8,-11.2A12,19.5 0 0 1 8,-19.5" stroke-width="3.6" fill="none"/>
</g>
<g transform="translate(1297 1862.8) rotate(32)">
<ellipse cx="0" cy="0" rx="14" ry="21.5" stroke-width="3.6" fill="#fff"/>
<path d="M5,-9L39,-9A5.5,9 0 0 1 39,9L5,9A5.5,9 0 0 1 5,-9Z" stroke-width="0" fill="#fff" stroke="none"/>
<path d="M4,-9L41,-9" stroke-width="3.6" fill="none"/>
<path d="M1,9L39,9" stroke-width="3.6" fill="none"/>
<path d="M5,9A5.5,9 0 0 1 5,-9" stroke-width="1.4" fill="none"/>
<path d="M38,9A5.5,9 0 0 1 38,-9" stroke-width="2.3" fill="none"/>
<path d="M39,-9A5.5,9 0 0 1 42.5,-6.9" stroke-width="3.6" fill="none"/>
<path d="M41.8,7.8A5.5,9 0 0 1 39,9" stroke-width="3.6" fill="none"/>
</g>
<g transform="translate(1562.7 834.4) rotate(29)">
<path d="M-12,-8.5L7,-8.5A4.5,8.5 0 0 0 7,8.5L-12,8.5A4.5,8.5 0 0 1 -12,-8.5Z" stroke-width="2.3" fill="#fff"/>
<path d="M7,-8.5A4.5,8.5 0 0 1 7,8.5" stroke-width="1.4" fill="none"/>
<path d="M9,-4.5A3,5 0 0 1 13,-1" stroke-width="1.4" fill="none"/>
</g>
<g transform="translate(1539.4 1905.5) rotate(29)">
<path d="M-12,-8.5L7,-8.5A4.5,8.5 0 0 0 7,8.5L-12,8.5A4.5,8.5 0 0 1 -12,-8.5Z" stroke-width="2.3" fill="#fff"/>
<path d="M7,-8.5A4.5,8.5 0 0 1 7,8.5" stroke-width="1.4" fill="none"/>
<path d="M9,-4.5A3,5 0 0 1 13,-1" stroke-width="1.4" fill="none"/>
</g>
<path d="M1319.5,2229.9A22.5,35.5 -20 1 1 1337.6,2259.2" stroke-width="3.6" fill="none"/>
<path d="M1325,2227A16.5,30 -20 1 1 1341.9,2255.4" stroke-width="3.6" fill="none"/>
<g transform="translate(1248 2337.2) rotate(-27)">
<path d="M8,-7.5L46,-7.5A3.5,7.5 0 0 1 46,7.5L8,7.5Z" stroke-width="2.3" fill="#fff"/>
<path d="M-4,-15.5L8,-15.5A6,15.5 0 0 1 8,15.5L-4,15.5Z" stroke-width="2.3" fill="#fff"/>
<ellipse cx="-4" cy="0" rx="6.5" ry="15.5" stroke-width="3.6" fill="#fff"/>
<ellipse cx="-4" cy="0" rx="4.5" ry="11.5" stroke-width="1.4" fill="none"/>
<ellipse cx="-4" cy="0" rx="2.3" ry="5.5" stroke-width="1.4" fill="none"/>
<path d="M8,-15.5A6,15.5 0 0 1 8,15.5" stroke-width="2.3" fill="none"/>
</g>
<path d="M1592.9,2413.6A98,54.8 0 0 1 1788.9,2413.6L1788.9,2431.6L1788.9,2431.6A98,65.6 0 0 1 1592.9,2431.6Z" stroke-width="3.6" fill="#fff"/>
<path d="M1773,2390.1A93,50 0 1 1 1608.8,2390.1" stroke-width="1.4" fill="none"/>
<path d="M1785.4,2404.4A96,53 0 1 1 1596.4,2404.4" stroke-width="1.4" fill="none"/>
<ellipse cx="1690.9" cy="2411.4" rx="38.8" ry="22.2" stroke-width="1.4" fill="none"/>
<ellipse cx="1690.9" cy="2414.3" rx="33.7" ry="19.5" stroke-width="3.6" fill="none"/>
<clipPath id="c6"><ellipse cx="1690.9" cy="2414.3" rx="33.7" ry="19.5"/></clipPath>
<g clip-path="url(#c6)">
<ellipse cx="1690.9" cy="2428.6" rx="21" ry="5.2" stroke-width="3.6" fill="none"/>
<path d="M1717.5,2426.9A27,7.5 0 0 1 1664.3,2426.9" stroke-width="1.4" fill="none"/>
</g>
<path d="M1594.5,2584.1A98,54.8 0 0 1 1790.5,2584.1L1790.5,2602.1L1790.5,2602.1A98,65.6 0 0 1 1594.5,2602.1Z" stroke-width="3.6" fill="#fff"/>
<path d="M1774.6,2560.6A93,50 0 1 1 1610.4,2560.6" stroke-width="1.4" fill="none"/>
<path d="M1787,2574.9A96,53 0 1 1 1598,2574.9" stroke-width="1.4" fill="none"/>
<ellipse cx="1692.5" cy="2581.9" rx="38.8" ry="22.2" stroke-width="1.4" fill="none"/>
<ellipse cx="1692.5" cy="2584.8" rx="33.7" ry="19.5" stroke-width="3.6" fill="none"/>
<clipPath id="c7"><ellipse cx="1692.5" cy="2584.8" rx="33.7" ry="19.5"/></clipPath>
<g clip-path="url(#c7)">
<ellipse cx="1692.5" cy="2599.1" rx="21" ry="5.2" stroke-width="3.6" fill="none"/>
<path d="M1719.1,2597.4A27,7.5 0 0 1 1665.9,2597.4" stroke-width="1.4" fill="none"/>
</g>
<path d="M1789.1,2763.3A94.3,52.5 0 0 1 1600.5,2763.3L1600.5,2750.3L1600.5,2750.3A94.3,52.5 0 0 1 1789.1,2750.3Z" stroke-width="3.6" fill="#fff"/>
<path d="M1789.1,2750.3A94.3,52.5 0 0 1 1600.5,2750.3" stroke-width="3.6" fill="none"/>
<ellipse cx="1694.6" cy="2753.8" rx="36" ry="20" stroke-width="3.6" fill="none"/>
<path d="M1659.7,2758.8A36,20 0 0 1 1729.5,2758.8" stroke-width="3.6" fill="none"/>
<path d="M1743.2,2947A47,28.8 0 0 1 1649.2,2947" stroke-width="3.6" fill="#fff"/>
<path d="M1737.5,2950.9A44,26 0 0 1 1654.9,2950.9" stroke-width="1.4" fill="none"/>
<path d="M1639.7,2896.3L1639.7,2939.9L1676.7,2964L1734.8,2957.7L1754.3,2925.1L1754.3,2884.5L1741,2868L1716,2859L1676,2859L1652,2870Z" stroke-width="3.6" fill="#fff"/>
<path d="M1639.7,2896.3L1676.7,2917.7L1734.8,2913.3L1754.3,2884.5" stroke-width="2.3" fill="none"/>
<path d="M1676.7,2917.7L1676.7,2964" stroke-width="1.4" fill="none"/>
<path d="M1734.8,2913.3L1734.8,2957.7" stroke-width="1.4" fill="none"/>
<ellipse cx="1696.6" cy="2885.5" rx="52.5" ry="27.5" stroke-width="1.4" fill="#fff"/>
<path d="M1644.3,2887.9A52.5,27.5 0 1 1 1748.9,2887.9" stroke-width="3.6" fill="none"/>
<ellipse cx="1697" cy="2887" rx="31.4" ry="16.6" stroke-width="3.6" fill="none"/>
<path d="M1669.7,2886.4A29,15 0 0 1 1724.3,2886.4" stroke-width="1.4" fill="none"/>
<path d="M1327.9,1884.8L1375.2,1914.4" stroke-width="1.4"/>
<path d="M1452.1,1846.9L1486.1,1867" stroke-width="1.4"/>
<path d="M1508.3,1884.8L1527.5,1896.6" stroke-width="1.4"/>
<path d="M1549.7,1912.9L1588.2,1936.5" stroke-width="1.4"/>
<path d="M1409.2,1939.5L1551.2,2032.7" stroke-width="1.4"/>
<path d="M1369.3,2218.3L1617.7,2096.2" stroke-width="1.4"/>
<path d="M1317.5,2244.1L1350,2229.3" stroke-width="1.4"/>
<path d="M1293.9,2316.5L1628.1,2148" stroke-width="1.4"/>
<path d="M1574.6,839.7L1611.5,860.4" stroke-width="1.4"/>
<path d="M1573.1,2132L1596.8,2149.7" stroke-width="2.3"/>
<path d="M1594,2139L1597,2142" stroke-width="2.3"/>
<path d="M1672.2,487.1L1672.2,779.4" stroke-width="1.4"/>
<path d="M1672.2,728L1672.2,779.4" stroke="#fff" stroke-width="24" stroke-linecap="butt"/>
<path d="M1672.2,487.1L1672.2,779.4" stroke-width="1.4"/>
<path d="M1671.6,809.5L1673.5,877.4" stroke="#fff" stroke-width="24" stroke-linecap="butt"/>
<path d="M1671.6,809.5L1673.7,886.4" stroke-width="1.4"/>
<path d="M1675.1,1060.7L1675.9,1141.9" stroke="#fff" stroke-width="24" stroke-linecap="butt"/>
<path d="M1675.1,1060.7L1676,1150.9" stroke-width="1.4"/>
<path d="M1676.6,1184.9L1677.4,1249.9" stroke="#fff" stroke-width="24" stroke-linecap="butt"/>
<path d="M1676.6,1184.9L1677.5,1258.9" stroke-width="1.4"/>
<path d="M1678.1,1314.5L1678.9,1398.6" stroke="#fff" stroke-width="24" stroke-linecap="butt"/>
<path d="M1678.1,1314.5L1679,1407.6" stroke-width="1.4"/>
<path d="M1689.9,2330.8L1690.7,2417.9" stroke="#fff" stroke-width="24" stroke-linecap="butt"/>
<path d="M1689.9,2330.8L1690.8,2426.9" stroke-width="1.4"/>
<path d="M1692.3,2505.3L1693,2589" stroke="#fff" stroke-width="24" stroke-linecap="butt"/>
<path d="M1692.3,2505.3L1693.1,2598" stroke-width="1.4"/>
<path d="M1694.1,2675.6L1694.7,2751.6" stroke="#fff" stroke-width="24" stroke-linecap="butt"/>
<path d="M1694.1,2675.6L1694.8,2760.6" stroke-width="1.4"/>
<path d="M1695.2,2821.6L1695.8,2884.7" stroke="#fff" stroke-width="24" stroke-linecap="butt"/>
<path d="M1695.2,2821.6L1695.9,2893.7" stroke-width="1.4"/>
<path d="M1697,2983.5L1697.8,3042.7" stroke-width="1.4"/>
<path d="M1724.5,761.3L1806.2,714L1806.2,1232.8L1749.7,1264.2" stroke-width="2.3" fill="none" stroke-linejoin="miter"/>
<path d="M1750.3,1122.5L1806.2,1091.5" stroke-width="2.3"/>
<path d="M1806.5,986.5L1849.6,962" stroke-width="1.4"/>
<path d="M1562.7,719.9L1621.9,752.5" stroke-width="1.4"/>
<path d="M1513.9,805.7L1550.9,826.4" stroke-width="1.4"/>
<path d="M1542.9,925.5L1599.7,958" stroke-width="1.4"/>
<path d="M1554.8,1094.1L1604.2,1122.2" stroke-width="1.4"/>
<path d="M1543.5,1211L1601.2,1244.1" stroke-width="1.4"/>
<path d="M1527.3,1521.8L1584.9,1554.4" stroke-width="1.4"/>
<path d="M1419.6,1731L1419.6,1799" stroke-width="1.4"/>
<path d="M1296.8,1775.4L1296.8,1842.8" stroke-width="1.4"/>
<path d="M1544.3,1829.5L1544.3,1895" stroke-width="1.4"/>
<path d="M1311.6,1963.2L1366.9,1994.8" stroke-width="1.4"/>
<path d="M1267.3,2162.7L1324.9,2194.4" stroke-width="1.4"/>
<path d="M1282,2335.8L1338.2,2366.8" stroke-width="1.4"/>
<path d="M1779.5,2466.2L1832.7,2496.4" stroke-width="1.4"/>
<path d="M1778,2554.1L1831.3,2523.9" stroke-width="1.4"/>
<path d="M1790.2,2742.1L1847.5,2710" stroke-width="1.4"/>
<path d="M1755.1,2909.6L1806.8,2880.8" stroke-width="1.4"/>
<text x="1541.4" y="721.6" font-size="42" class="lb">13</text>
<text x="1492.1" y="806.8" font-size="42" class="lb">14</text>
<text x="1521" y="927.5" font-size="42" class="lb">15</text>
<text x="1532.6" y="1095" font-size="42" class="lb">16</text>
<text x="1873.6" y="962" font-size="42" class="lb">24</text>
<text x="1521.3" y="1212.1" font-size="42" class="lb">17</text>
<text x="1505.1" y="1523.3" font-size="42" class="lb">18</text>
<text x="1419.9" y="1719.2" font-size="42" class="lb">19</text>
<text x="1296.7" y="1763.5" font-size="42" class="lb">20</text>
<text x="1545.6" y="1817" font-size="42" class="lb">14</text>
<text x="1285.7" y="1964" font-size="42" class="lb">21</text>
<text x="1244.8" y="2163.6" font-size="42" class="lb">22</text>
<text x="1361.2" y="2396.4" font-size="42" class="lb">23</text>
<text x="1855" y="2526" font-size="42" class="lb">4</text>
<text x="1870" y="2712.6" font-size="42" class="lb">3</text>
<text x="1830.5" y="2881.9" font-size="42" class="lb">2</text>
<text transform="translate(2067.5 3087) rotate(-90)" x="0" y="0" font-size="51.5" fill="#000" stroke="none" textLength="138" lengthAdjust="spacingAndGlyphs">17870</text>
</g>
</svg>
</body>
</html>
